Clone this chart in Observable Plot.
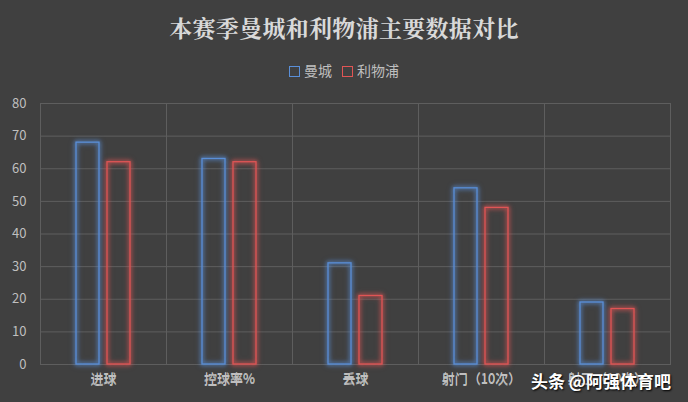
<!DOCTYPE html>
<html><head><meta charset="utf-8">
<script src="https://cdn.jsdelivr.net/npm/d3@7"></script>
<script src="https://cdn.jsdelivr.net/npm/@observablehq/plot@0.6"></script>
<style>
html,body{margin:0;padding:0;background:#404040;}
#wrap{position:relative;width:688px;height:402px;background:#404040;overflow:hidden;font-family:"Noto Sans CJK SC","Noto Sans",sans-serif;}
#title{height:52px;line-height:56px;text-align:center;color:#d9d9d9;font-size:23px;font-weight:bold;font-family:"Noto Serif CJK SC","Noto Sans CJK SC",serif;letter-spacing:0.3px;}
#legend{height:36px;display:flex;justify-content:center;align-items:center;gap:10px;color:#bfbfbf;font-size:14px;}
#legend span.sw{display:inline-block;width:9px;height:9px;border:1px solid;margin-right:4px;vertical-align:-1px;}
#wm{position:absolute;left:531px;top:368px;color:#fff;font-size:17px;font-weight:bold;text-shadow:1px 1px 2px #000;}
</style></head>
<body>
<div id="wrap">
<div id="title">本赛季曼城和利物浦主要数据对比</div>
<div id="legend"></div>
<div id="chart"></div>
<div id="wm">头条 @阿强体育吧</div>
</div>
<script>
const categories = ["进球","控球率%","丢球","射门（10次）","射正（10次）"];
const teams = ["曼城","利物浦"];
const manCity = [68,63,31,54,19];
const liverpool = [62,62,21,48,17];
const colors = ["#5a8fd8","#e05555"];
const yTicks = [0,10,20,30,40,50,60,70,80];

const data = [];
categories.forEach((c,i)=>{
  data.push({cat:c, team:teams[0], value:manCity[i]});
  data.push({cat:c, team:teams[1], value:liverpool[i]});
});

const leg = document.getElementById("legend");
teams.forEach((t,i)=>{
  const s = document.createElement("span");
  s.innerHTML = `<span class="sw" style="border-color:${colors[i]}"></span>${t}`;
  leg.appendChild(s);
});

const chart = Plot.plot({
  width: 688,
  height: 314,
  marginTop: 15,
  marginBottom: 38,
  marginLeft: 38,
  marginRight: 17,
  style: {background:"transparent", color:"#bfbfbf", fontSize:"13px", fontFamily:"'Noto Sans CJK SC','Noto Sans',sans-serif"},
  fx: {domain: categories, padding: 0, label: null, axis: "bottom"},
  x: {domain: teams, paddingInner: 0.25, paddingOuter: 1.11, axis: null},
  y: {domain: [0,80], label: null},
  color: {domain: teams, range: colors},
  marks: [
    Plot.gridY(yTicks, {stroke:"#5e5e5e", strokeOpacity:1}),
    Plot.frame({stroke:"#5e5e5e", strokeOpacity:1}),
    Plot.axisY(yTicks, {tickSize:0, tickPadding:14, fill:"#bfbfbf", label:null}),
    Plot.axisFx({anchor:"bottom", tickSize:0, tickPadding:10, fill:"#bfbfbf", label:null}),
    Plot.barY(data, {fx:"cat", x:"team", y:"value", fill:"none", stroke:"team", strokeWidth:1.3})
  ]
});
document.getElementById("chart").appendChild(chart);
chart.querySelectorAll("g[aria-label='bar'] rect").forEach(r=>{
  const c = r.getAttribute("stroke") || r.parentNode.getAttribute("stroke");
  r.style.filter = `drop-shadow(0 0 2px ${c}) drop-shadow(0 0 2px ${c}aa)`;
});
</script>
</body></html>
